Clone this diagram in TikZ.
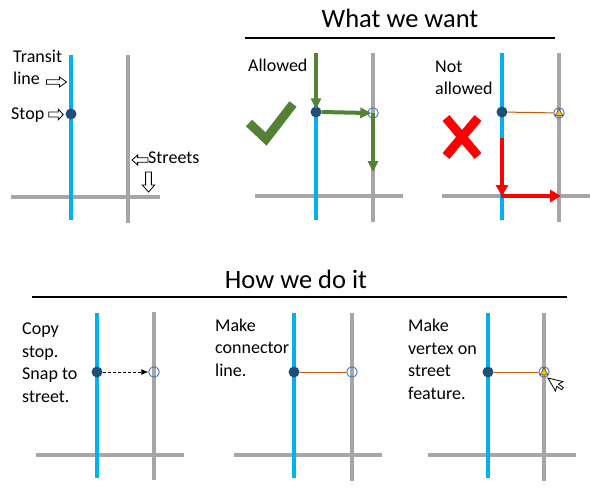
\documentclass[tikz,border=0pt]{standalone}
\usepackage{fontspec}
\setmainfont{Carlito}
\usetikzlibrary{arrows.meta,shapes.geometric}
\definecolor{tblue}{HTML}{00B0F0}
\definecolor{sgray}{HTML}{A6A6A6}
\definecolor{dotblue}{HTML}{1F4E79}
\definecolor{cgreen}{HTML}{548235}
\definecolor{cred}{HTML}{FF0000}
\definecolor{corange}{HTML}{C55A11}
\definecolor{ringblue}{HTML}{4472C4}
\definecolor{tyellow}{HTML}{FFC000}
\begin{document}
\begin{tikzpicture}[x=1pt,y=-1pt,
 transit/.style={tblue, line width=4},
 street/.style={sgray, line width=4},
 stopdot/.style={circle, fill=dotblue, minimum size=11, inner sep=0},
 ring/.style={circle, draw=ringblue, line width=0.9, minimum size=10.5, inner sep=0},
 vtx/.style={regular polygon, regular polygon sides=3, fill=tyellow, draw=black!75, line width=0.5, minimum size=9, inner sep=0},
 lbl/.style={font=\fontsize{18}{22.5}\selectfont, anchor=base west, inner sep=0, align=left},
 head/.style={font=\fontsize{26.5}{30}\selectfont, anchor=base, inner sep=0},
 harrow/.pic={\draw[fill=white, line width=0.8, line join=miter]
   (-10,-2.3) -- (3,-2.3) -- (3,-5) -- (10,0) -- (3,5) -- (3,2.3) -- (-10,2.3) -- cycle;},
 okarrow/.style={cgreen, line width=4, -{Triangle[length=11,width=10]}},
 badarrow/.style={cred, line width=4, -{Triangle[length=11,width=12]}},
 conn/.style={corange, line width=1},
 heavy/.style={line width=9},
]
\useasboundingbox (0,0) rectangle (601,497);

% headings
\node[head] (h1) at (400,28) {What we want};
\draw[line width=1.3] (245,38) -- (555,38);
\node[head] (h2) at (296,288) {How we do it};
\draw[line width=1.3] (32,297) -- (567,297);

% ---------- panel 1 ----------
\draw[street] (11,197) -- (160,197);
\draw[street] (128,55) -- (128,223);
\draw[transit] (71,55) -- (71,220);
\node[stopdot] (d1) at (71,114) {};
\node[lbl] (t1) at (13,85) {Transit\\line};
\node[lbl] (t2) at (11,120) {Stop};
\node[lbl] (t3) at (148,164) {Streets};
\pic at (56.5,82) {harrow};
\pic[xscale=0.72, yscale=1.1] at (56,114.5) {harrow};
\pic[rotate=180, xscale=0.8] at (140,160) {harrow};
\pic[rotate=-90, yscale=1.25] at (148.5,182) {harrow};

% ---------- panel 2 ----------
\draw[street] (255,196) -- (403,196);
\draw[street] (373,53) -- (373,222);
\draw[transit] (316,53) -- (316,220);
\node[stopdot] (d2) at (316,112) {};
\node[ring] (r2) at (373,113) {};
\node[lbl] (t4) at (248,72) {Allowed};
\coordinate (g0) at (316,53);
\coordinate (g1) at (373,172);
\draw[okarrow, shorten >=-3] (g0) -- (d2.north);
\draw[okarrow, shorten >=-4] (d2.east) -- (r2.west);
\draw[okarrow] (r2.center) -- (g1);
\draw[cgreen, heavy, line join=miter] (249,123) -- (266,139) -- (293,104);

% ---------- panel 3 ----------
\draw[street] (442,196) -- (590,196);
\draw[street] (559,53) -- (559,222);
\draw[transit] (502,53) -- (502,220);
\node[stopdot] (d3) at (502,112) {};
\node[ring] (r3) at (559,113) {};
\node[vtx] (v3) at (559,113.5) {};
\draw[conn] (d3) -- (r3);
\node[lbl] (t5) at (435,95) {Not\\allowed};
\coordinate (b0) at (502,138);
\coordinate (b1) at (502,196);
\coordinate (b2) at (561,196);
\draw[badarrow] (b0) -- (b1);
\draw[badarrow] ([xshift=-1]b1) -- (b2);
\draw[cred, heavy] (446,118) -- (478,156);
\draw[cred, heavy] (478,118) -- (446,156);

% ---------- panel 4 ----------
\draw[street] (36,455) -- (184,455);
\draw[street] (154,312) -- (154,480);
\draw[transit] (97,313) -- (97,478);
\node[stopdot] (d4) at (97,372) {};
\node[ring] (r4) at (154,372) {};
\draw[black, line width=0.9, dash pattern=on 3 off 2, -{Latex[length=7,width=6]}] (d4) -- (r4);
\node[lbl] (t6) at (22,402) {Copy\\stop.\\Snap to\\street.};

% ---------- panel 5 ----------
\draw[street] (234,455) -- (382,455);
\draw[street] (352,313) -- (352,481);
\draw[transit] (294,313) -- (294,478);
\node[stopdot] (d5) at (294,372) {};
\node[ring] (r5) at (352,372) {};
\draw[conn] (d5) -- (r5);
\node[lbl] (t7) at (215,376) {Make\\connector\\line.};

% ---------- panel 6 ----------
\draw[street] (428,455) -- (576,455);
\draw[street] (544,313) -- (544,481);
\draw[transit] (488,313) -- (488,478);
\node[stopdot] (d6) at (488,372) {};
\node[ring] (r6) at (544,372) {};
\node[vtx] (v6) at (544,372.5) {};
\draw[conn] (d6) -- (r6);
\node[lbl] (t8) at (408,399) {Make\\vertex on\\street\\feature.};
\begin{scope}[shift={(548,378)}, rotate=30]
\draw[fill=white, line width=0.8, line join=miter] (0,0) -- (0,15) -- (3.5,11.5) -- (6,17) -- (8.5,16) -- (6,10.5) -- (11,10.5) -- cycle;
\end{scope}
\end{tikzpicture}
\end{document}
